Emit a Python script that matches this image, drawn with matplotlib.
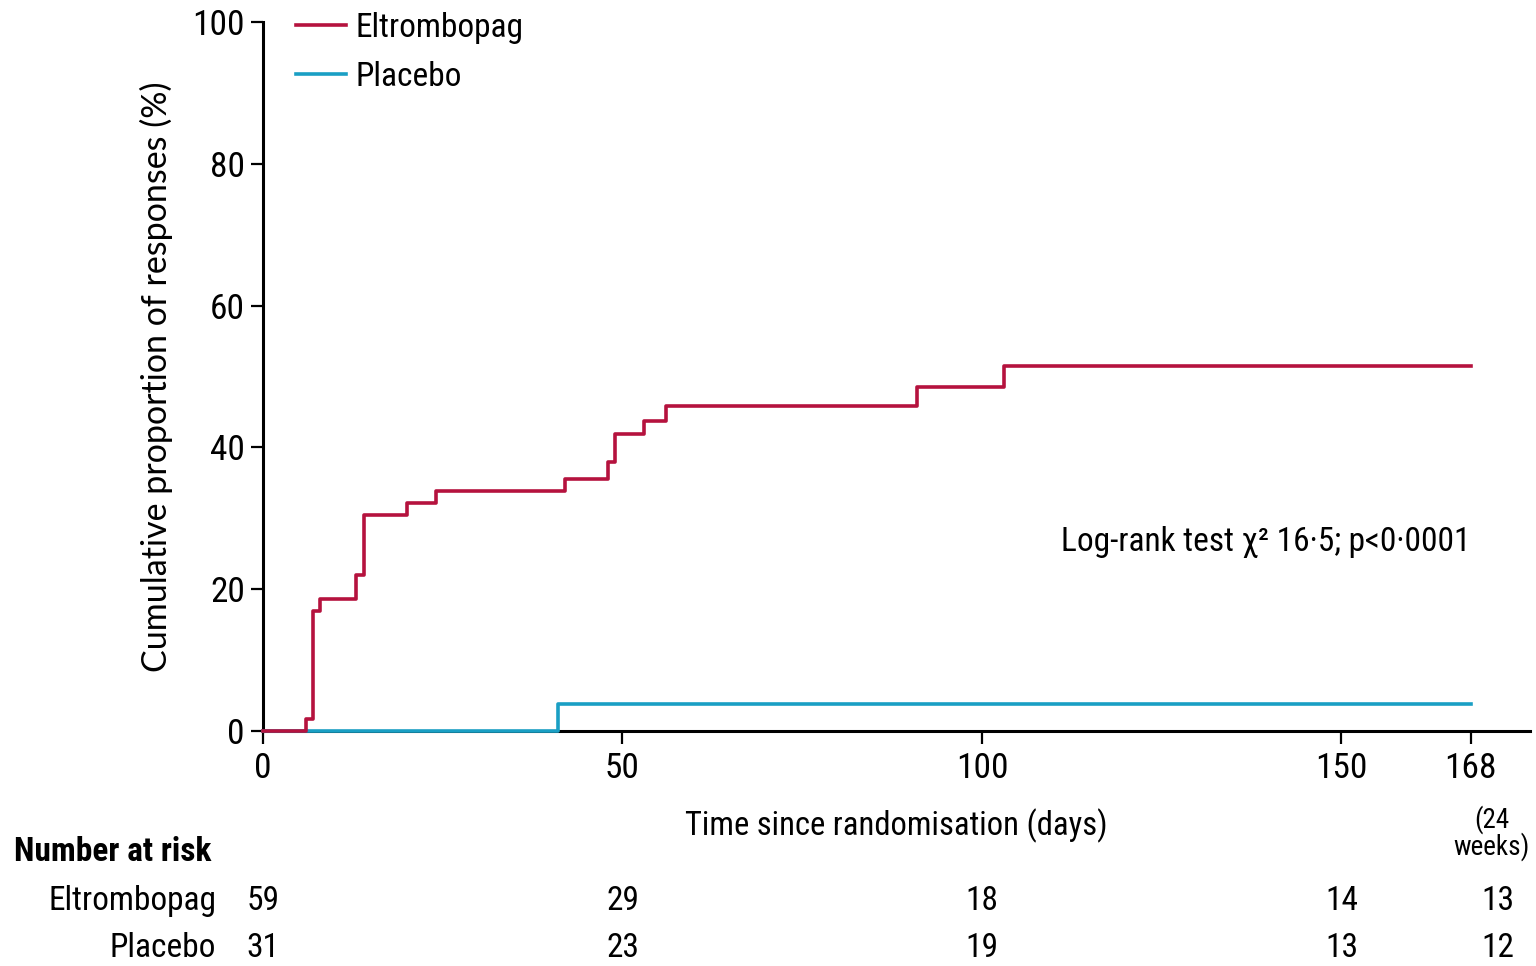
import matplotlib
matplotlib.use("Agg")
import matplotlib.pyplot as plt
from matplotlib.transforms import offset_copy

plt.rcParams['font.family'] = ['Roboto Condensed', 'Lato', 'DejaVu Sans']

# Kaplan-Meier style cumulative responses
elt_days = [0, 6, 7, 8, 13, 14, 20, 24, 42, 48, 49, 53, 56, 91, 103, 168]
elt_pct = [0, 1.7, 16.9, 18.6, 22.0, 30.5, 32.2, 33.9, 35.6, 37.9, 41.9, 43.7, 45.8, 48.5, 51.5, 51.5]
plc_days = [0, 41, 168]
plc_pct = [0, 3.8, 3.8]

risk_days = [0, 50, 100, 150, 168]
risk_elt = [59, 29, 18, 14, 13]
risk_plc = [31, 23, 19, 13, 12]

xticks = [0, 50, 100, 150, 168]
yticks = [0, 20, 40, 60, 80, 100]

red = '#B5123E'
blue = '#1A9FC4'
fs = 24

fig = plt.figure(figsize=(15.36, 9.66), dpi=100)
ax = fig.add_axes([0.1712, 0.2433, 0.8248, 0.7339])

ax.step(plc_days, plc_pct, where='post', color=blue, lw=2.6, clip_on=False, zorder=5, label='Placebo')
ax.step(elt_days, elt_pct, where='post', color=red, lw=2.6, clip_on=False, zorder=6, label='Eltrombopag')

ax.set_xlim(0, 176.2)
ax.set_ylim(0, 100)
ax.set_xticks(xticks)
ax.set_yticks(yticks)
ax.tick_params(labelsize=25.5, length=9, width=1.6, direction='out', pad=4)
ax.tick_params(axis='x', pad=6)
for s in ['top', 'right']:
    ax.spines[s].set_visible(False)
for s in ['left', 'bottom']:
    ax.spines[s].set_linewidth(2.2)

ax.set_xlabel('Time since randomisation (days)', fontsize=23.5, labelpad=17)
ax.set_ylabel('Cumulative proportion of responses (%)', fontsize=24.5, labelpad=14,
              family=['Lato', 'DejaVu Sans'])

h, l = ax.get_legend_handles_labels()
ax.legend(h[::-1], l[::-1], loc='upper left', bbox_to_anchor=(0.026, 1.014), frameon=False,
          borderaxespad=0, borderpad=0, fontsize=fs, handlelength=1.5, handletextpad=0.3,
          labelspacing=0.5)

ax.text(168, 26.7, 'Log-rank test χ² 16·5; p<0·0001', fontsize=fs, ha='right', va='center')

# "(24 weeks)" under 168
ax.text(168, -10.5, '(24\nweeks)', transform=offset_copy(ax.transData, fig=fig, x=21, y=0, units='dots'),
        fontsize=19.5, ha='center', va='top', linespacing=0.9, clip_on=False)

# number at risk table
row_y = [-24.0, -30.6]
ax.text(-34.6, -17.1, 'Number at risk', fontsize=fs, fontweight='bold', ha='left', va='center', clip_on=False)
for name, vals, y in [('Eltrombopag', risk_elt, row_y[0]), ('Placebo', risk_plc, row_y[1])]:
    ax.text(-6.5, y, name, fontsize=fs, ha='right', va='center', clip_on=False)
    for d, v in zip(risk_days, vals):
        t = ax.transData
        if d == 168:
            t = offset_copy(ax.transData, fig=fig, x=27, y=0, units='dots')
        ax.text(d, y, str(v), fontsize=fs, ha='center', va='center', transform=t, clip_on=False)

fig.savefig('out.png', dpi=100)
